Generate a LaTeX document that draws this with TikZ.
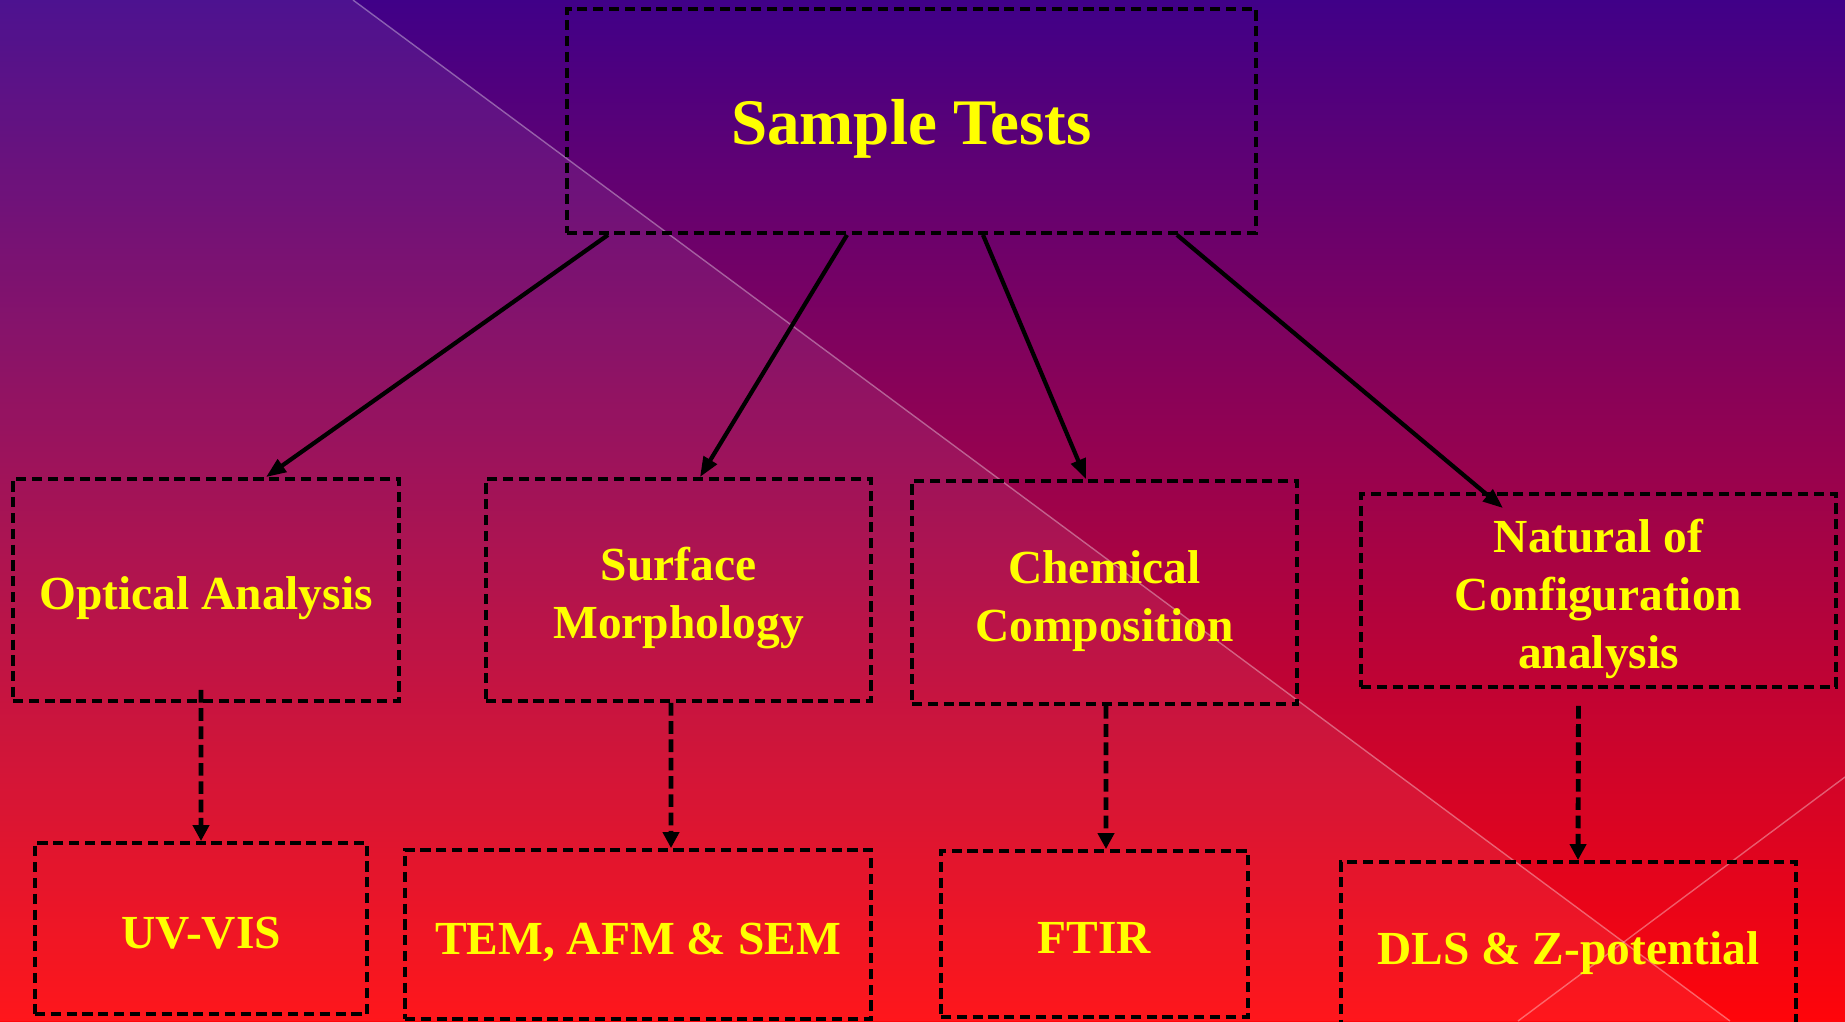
\documentclass[tikz,border=0pt]{standalone}
\usepackage{fontspec}
\setmainfont{Liberation Serif}
\usetikzlibrary{arrows.meta,positioning}

\definecolor{deepindigo}{RGB}{64,0,136}
\definecolor{plum}{RGB}{168,0,112}
\definecolor{scarlet}{RGB}{255,5,10}
\definecolor{labelyellow}{RGB}{255,255,0}

% box text sits a little below the middle of its box
\newcommand{\boxlabel}[1]{\raisebox{-0.8mm}[\height][\depth]{\begin{tabular}{@{}c@{}}#1\end{tabular}}}

\begin{document}
\begin{tikzpicture}[
    x=1cm,y=1cm,
    testbox/.style={draw, dash pattern=on 2.9pt off 1.6pt, line width=1.1pt, align=center,
      text=labelyellow, font=\bfseries\fontsize{13.5}{16.5}\selectfont, inner sep=2pt},
    edge/.style={-{Triangle[length=2mm,width=1.5mm]}, line width=1.2pt},
    dashedge/.style={-{Triangle[length=1.6mm,width=1.6mm]}, line width=1.4pt,
      dash pattern=on 3.6pt off 1.6pt}
  ]
    % background
    \useasboundingbox (0,0) rectangle (18.45,10.21);
    \shade[top color=deepindigo, middle color=plum, bottom color=scarlet] (0,0) rectangle (18.45,10.21);
    \fill[white, opacity=0.07] (0,10.21) -- (3.53,10.21) -- (17.30,0) -- (0,0) -- cycle;
    \draw[white, opacity=0.35, line width=0.4pt] (3.53,10.21) -- (17.30,0);
    \draw[white, opacity=0.35, line width=0.4pt] (18.45,2.44) -- (15.18,0);

    \node[testbox, minimum width=6.89cm, minimum height=2.24cm,
      font=\bfseries\fontsize{18.5}{22}\selectfont] (tests) at (9.115,9.00) {\boxlabel{Sample Tests}};

    \node[testbox, minimum width=3.86cm, minimum height=2.22cm] (optical) at (2.06,4.31) {\boxlabel{Optical Analysis}};
    \node[testbox, minimum width=3.85cm, minimum height=2.22cm] (surface) at (6.785,4.31) {\boxlabel{Surface\\Morphology}};
    \node[testbox, minimum width=3.85cm, minimum height=2.23cm] (chem) at (11.045,4.285) {\boxlabel{Chemical\\Composition}};
    \node[testbox, minimum width=4.75cm, minimum height=1.93cm] (config) at (15.985,4.305) {\boxlabel{Natural of\\Configuration\\analysis}};

    \node[testbox, minimum width=3.32cm, minimum height=1.71cm] (uvvis) at (2.01,0.925) {\boxlabel{UV-VIS}};
    \node[testbox, minimum width=4.66cm, minimum height=1.69cm] (tem) at (6.38,0.865) {\boxlabel{TEM, AFM \& SEM}};
    \node[testbox, minimum width=3.07cm, minimum height=1.66cm] (ftir) at (10.945,0.87) {\boxlabel{FTIR}};
    \node[testbox, minimum width=4.55cm, minimum height=1.66cm] (dls) at (15.685,0.76) {\boxlabel{DLS \& Z-potential}};

    \draw[edge] ([xshift=-3.035cm]tests.south) -- ([xshift=0.6cm]optical.north);
    \draw[edge] ([xshift=-0.645cm]tests.south) -- ([xshift=0.215cm]surface.north);
    \draw[edge] ([xshift=0.715cm]tests.south) -- ([xshift=-0.185cm]chem.north);
    \draw[edge] ([xshift=2.655cm]tests.south) -- ([xshift=-0.955cm,yshift=-0.16cm]config.north);

    \draw[dashedge] ([xshift=-0.5mm,yshift=1.3mm]optical.south) -- (uvvis.north);
    \draw[dashedge] ([xshift=-0.75mm]surface.south) -- ([xshift=3.3mm]tem.north);
    \draw[dashedge] ([xshift=0.15mm]chem.south) -- ([xshift=1.15mm]ftir.north);
    \draw[dashedge] ([xshift=-2mm,yshift=-1.7mm]config.south) -- ([xshift=0.95mm]dls.north);
  \end{tikzpicture}
\end{document}
